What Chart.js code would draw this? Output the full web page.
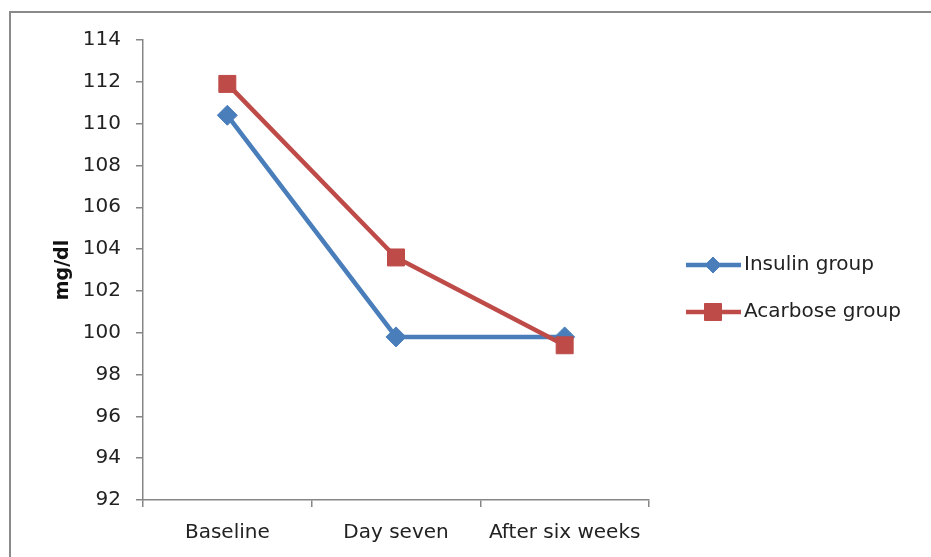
<!DOCTYPE html>
<html>
<head>
<meta charset="utf-8">
<script src="https://cdn.jsdelivr.net/npm/chart.js@4"></script>
<style>
  html, body { margin: 0; padding: 0; background: #fff; overflow: hidden; }
  #wrap { position: relative; width: 931px; height: 557px; }
  #frame { position: absolute; left: 9px; top: 11px; width: 1000px; height: 1000px; border: 2px solid #8a8a8a; box-sizing: border-box; }
  #grafico { position: absolute; left: 0; top: 0; }
</style>
</head>
<body>
<div id="wrap">
  <div id="frame"></div>
  <canvas id="grafico" width="931" height="557"></canvas>
</div>
<script>
const categorias = ['Baseline', 'Day seven', 'After six weeks'];
const insulina = [110.4, 99.8, 99.8];
const acarbosa = [111.9, 103.6, 99.4];
const nombres = ['Insulin group', 'Acarbose group'];
const ticksY = [92, 94, 96, 98, 100, 102, 104, 106, 108, 110, 112, 114];

const azul = '#4a7ebb';
const rojo = '#be4b48';
const fuente = "'DejaVu Sans', sans-serif";

// leyenda a mano: linea con marcador en medio, como en Excel
const leyenda = {
    id: 'leyenda',
    afterDraw(chart) {
        const ctx = chart.ctx;
        const items = [
            { texto: nombres[0], color: azul, forma: 'rectRot', r: 8, y: 265 },
            { texto: nombres[1], color: rojo, forma: 'rect', r: 12, y: 312 }
        ];
        ctx.save();
        items.forEach(it => {
            ctx.strokeStyle = it.color;
            ctx.lineWidth = 4.5;
            ctx.beginPath();
            ctx.moveTo(686, it.y);
            ctx.lineTo(741, it.y);
            ctx.stroke();
            ctx.fillStyle = it.color;
            ctx.lineWidth = 1;
            Chart.helpers.drawPoint(ctx, { pointStyle: it.forma, radius: it.r, borderWidth: 1 }, 713, it.y);
            ctx.fillStyle = '#222';
            ctx.font = '20px ' + fuente;
            ctx.textBaseline = 'middle';
            ctx.fillText(it.texto, 744, it.y);
        });
        ctx.restore();
    }
};

new Chart(document.getElementById('grafico'), {
    type: 'line',
    data: {
        labels: categorias,
        datasets: [
            {
                label: nombres[0],
                data: insulina,
                borderColor: azul,
                backgroundColor: azul,
                borderWidth: 4.5,
                pointStyle: 'rectRot',
                pointRadius: 10,
                pointBorderWidth: 1,
                order: 1
            },
            {
                label: nombres[1],
                data: acarbosa,
                borderColor: rojo,
                backgroundColor: rojo,
                borderWidth: 4.5,
                pointStyle: 'rect',
                pointRadius: 12,
                pointBorderWidth: 1,
                order: 0
            }
        ]
    },
    options: {
        responsive: false,
        animation: false,
        layout: { padding: { left: 52, top: 40, right: 282, bottom: 0 } },
        plugins: {
            legend: { display: false },
            tooltip: { enabled: false }
        },
        scales: {
            x: {
                offset: true,
                grid: { offset: true, drawOnChartArea: false, tickLength: 7, color: '#868686', lineWidth: 1.5 },
                border: { color: '#868686', width: 1.5 },
                ticks: { color: '#222', font: { family: fuente, size: 20 }, padding: 14 },
                afterFit: s => { s.height = 57; }
            },
            y: {
                min: 92,
                max: 114,
                afterBuildTicks: s => { s.ticks = ticksY.map(v => ({ value: v })); },
                grid: { drawOnChartArea: false, tickLength: 7, color: '#868686', lineWidth: 1.5 },
                border: { color: '#868686', width: 1.5 },
                ticks: { color: '#222', font: { family: fuente, size: 20 }, padding: 15 },
                title: {
                    display: true,
                    text: 'mg/dl',
                    color: '#111',
                    font: { family: fuente, size: 19, weight: 'bold' },
                    padding: 0
                },
                afterFit: s => { s.width = 91; }
            }
        }
    },
    plugins: [leyenda]
});
</script>
</body>
</html>
